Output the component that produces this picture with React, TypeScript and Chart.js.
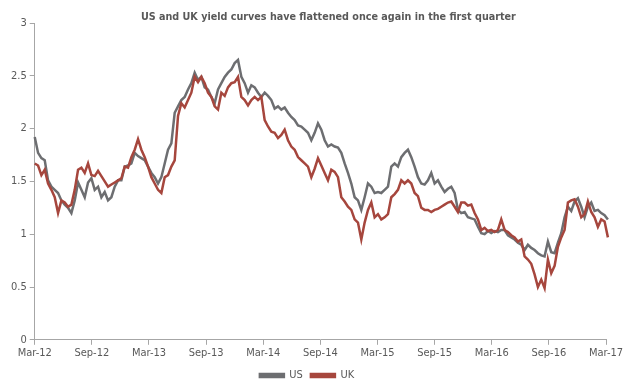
import React, { useEffect, useRef } from 'react';
import { Chart, registerables } from 'chart.js';

Chart.register(...registerables);

const TITLE = 'US and UK yield curves have flattened once again in the first quarter';
const TICK_LABELS = ['Mar-12', 'Sep-12', 'Mar-13', 'Sep-13', 'Mar-14', 'Sep-14', 'Mar-15', 'Sep-15', 'Mar-16', 'Sep-16', 'Mar-17'];
// observations are spaced ~1.5 weeks apart (in months)
const STEP_MONTHS = 0.35;

const US = [
  1.92, 1.77, 1.72, 1.70, 1.51, 1.45, 1.42, 1.39, 1.32, 1.28, 1.25, 1.20, 1.32, 1.49, 1.42, 1.35,
  1.49, 1.53, 1.42, 1.45, 1.35, 1.40, 1.32, 1.35, 1.45, 1.51, 1.51, 1.64, 1.65, 1.67, 1.77, 1.74,
  1.72, 1.70, 1.64, 1.58, 1.54, 1.48, 1.54, 1.67, 1.80, 1.86, 2.15, 2.21, 2.27, 2.30, 2.37, 2.43,
  2.53, 2.46, 2.49, 2.39, 2.37, 2.30, 2.24, 2.37, 2.43, 2.49, 2.53, 2.56, 2.62, 2.65,
  2.49, 2.43, 2.34, 2.41, 2.39, 2.34, 2.30, 2.34, 2.31, 2.27, 2.19, 2.21, 2.18, 2.20, 2.15, 2.11,
  2.08, 2.03, 2.02, 1.99, 1.96, 1.89, 1.96, 2.05, 1.99, 1.89, 1.83, 1.85, 1.83, 1.82,
  1.77, 1.67, 1.58, 1.48, 1.35, 1.32, 1.23, 1.35, 1.48, 1.45, 1.39, 1.40, 1.39, 1.42, 1.45, 1.64,
  1.67, 1.64, 1.73, 1.77, 1.80, 1.73, 1.64, 1.54, 1.48, 1.47, 1.51, 1.58, 1.48, 1.51,
  1.45, 1.40, 1.43, 1.45, 1.39, 1.23, 1.20, 1.21, 1.16, 1.15, 1.14, 1.07, 1.01, 1.00, 1.03, 1.01,
  1.03, 1.02, 1.04, 1.04, 0.99, 0.97, 0.95, 0.92, 0.90, 0.85, 0.90, 0.87, 0.85,
  0.82, 0.80, 0.79, 0.93, 0.83, 0.82, 0.92, 1.01, 1.16, 1.26, 1.22, 1.31, 1.34, 1.26, 1.16, 1.26,
  1.30, 1.22, 1.23, 1.20, 1.18, 1.14,
];

const UK = [
  1.67, 1.65, 1.56, 1.61, 1.48, 1.42, 1.35, 1.20, 1.32, 1.30, 1.26, 1.28, 1.42, 1.61, 1.63, 1.58,
  1.67, 1.56, 1.55, 1.60, 1.55, 1.50, 1.45, 1.47, 1.49, 1.51, 1.53, 1.64, 1.63, 1.73, 1.80, 1.90,
  1.80, 1.73, 1.64, 1.54, 1.48, 1.42, 1.39, 1.54, 1.56, 1.64, 1.70, 2.12, 2.24, 2.20, 2.27, 2.34,
  2.49, 2.44, 2.49, 2.43, 2.34, 2.30, 2.21, 2.18, 2.34, 2.31, 2.39, 2.43, 2.44, 2.49,
  2.30, 2.27, 2.22, 2.27, 2.30, 2.27, 2.30, 2.08, 2.02, 1.97, 1.96, 1.91, 1.94, 1.99, 1.89, 1.83,
  1.80, 1.73, 1.70, 1.67, 1.64, 1.54, 1.62, 1.72, 1.65, 1.58, 1.51, 1.61, 1.59, 1.54,
  1.35, 1.31, 1.26, 1.23, 1.14, 1.11, 0.95, 1.11, 1.23, 1.30, 1.16, 1.19, 1.14, 1.16, 1.19, 1.35,
  1.38, 1.42, 1.51, 1.48, 1.51, 1.48, 1.39, 1.36, 1.25, 1.23, 1.23, 1.21, 1.23, 1.24,
  1.26, 1.28, 1.30, 1.31, 1.26, 1.21, 1.30, 1.30, 1.27, 1.28, 1.20, 1.14, 1.04, 1.06, 1.03, 1.04,
  1.02, 1.04, 1.14, 1.04, 1.02, 0.99, 0.97, 0.93, 0.95, 0.79, 0.76, 0.72, 0.62,
  0.50, 0.57, 0.49, 0.76, 0.63, 0.70, 0.88, 0.97, 1.04, 1.30, 1.32, 1.33, 1.26, 1.16, 1.19, 1.31,
  1.21, 1.16, 1.07, 1.14, 1.12, 0.97,
];

const US_COLOR = '#6d6e71';
const UK_COLOR = '#a6463d';
const TEXT_COLOR = '#595959';
const AXIS_COLOR = '#a6a6a6';
const FONT = 'DejaVu Sans Condensed';

const titlePlugin = {
  id: 'offsetTitle',
  afterDraw(chart: any) {
    const { ctx, chartArea } = chart;
    ctx.save();
    ctx.font = `bold 10.7px "${FONT}"`;
    ctx.fillStyle = TEXT_COLOR;
    ctx.textAlign = 'center';
    ctx.textBaseline = 'middle';
    ctx.fillText(TITLE, (chartArea.left + chartArea.right) / 2 + 8, 17);
    ctx.restore();
  },
};

export default function App() {
  const ref = useRef<HTMLCanvasElement>(null);

  useEffect(() => {
    if (!ref.current) return;
    const toPts = (arr: number[]) => arr.map((v, i) => ({ x: i * STEP_MONTHS, y: v }));
    const chart = new Chart(ref.current, {
      type: 'line',
      data: {
        datasets: [
          {
            label: 'US',
            data: toPts(US),
            borderColor: US_COLOR,
            backgroundColor: US_COLOR,
            borderWidth: 2.5,
            pointRadius: 0,
            tension: 0,
            order: 1,
            clip: 4,
          },
          {
            label: 'UK',
            data: toPts(UK),
            borderColor: UK_COLOR,
            backgroundColor: UK_COLOR,
            borderWidth: 2.5,
            pointRadius: 0,
            tension: 0,
            order: 0,
            clip: 4,
          },
        ],
      },
      plugins: [titlePlugin],
      options: {
        animation: false,
        responsive: false,
        maintainAspectRatio: false,
        layout: { padding: { left: 8, right: 27, top: 23, bottom: 0 } },
        plugins: {
          title: { display: false },
          legend: {
            position: 'bottom',
            labels: {
              boxWidth: 24,
              boxHeight: 3,
              color: TEXT_COLOR,
              font: { family: FONT, size: 11 },
              padding: 8,
              sort: (a: any, b: any) => a.datasetIndex - b.datasetIndex,
            },
          },
          tooltip: { enabled: false },
        },
        scales: {
          x: {
            type: 'linear',
            min: 0,
            max: 60,
            ticks: {
              stepSize: 6,
              autoSkip: false,
              maxRotation: 0,
              padding: 2,
              color: TEXT_COLOR,
              font: { family: FONT, size: 11 },
              callback: (v: any) => TICK_LABELS[Math.round(Number(v) / 6)] ?? '',
            },
            grid: { drawOnChartArea: false, drawTicks: true, tickLength: 5, color: AXIS_COLOR },
            border: { color: AXIS_COLOR, width: 1 },
          },
          y: {
            min: 0,
            max: 3,
            ticks: {
              stepSize: 0.5,
              color: TEXT_COLOR,
              font: { family: FONT, size: 11 },
              callback: (v: any) => String(v),
            },
            grid: { drawOnChartArea: false, drawTicks: true, tickLength: 5, color: AXIS_COLOR },
            border: { color: AXIS_COLOR, width: 1 },
          },
        },
      },
    });
    return () => chart.destroy();
  }, []);

  return (
    <div style={{ position: 'absolute', left: 0, top: 0, width: 633, height: 379, overflow: 'hidden' }}>
      <canvas ref={ref} width={633} height={391} style={{ width: 633, height: 391 }} />
    </div>
  );
}
